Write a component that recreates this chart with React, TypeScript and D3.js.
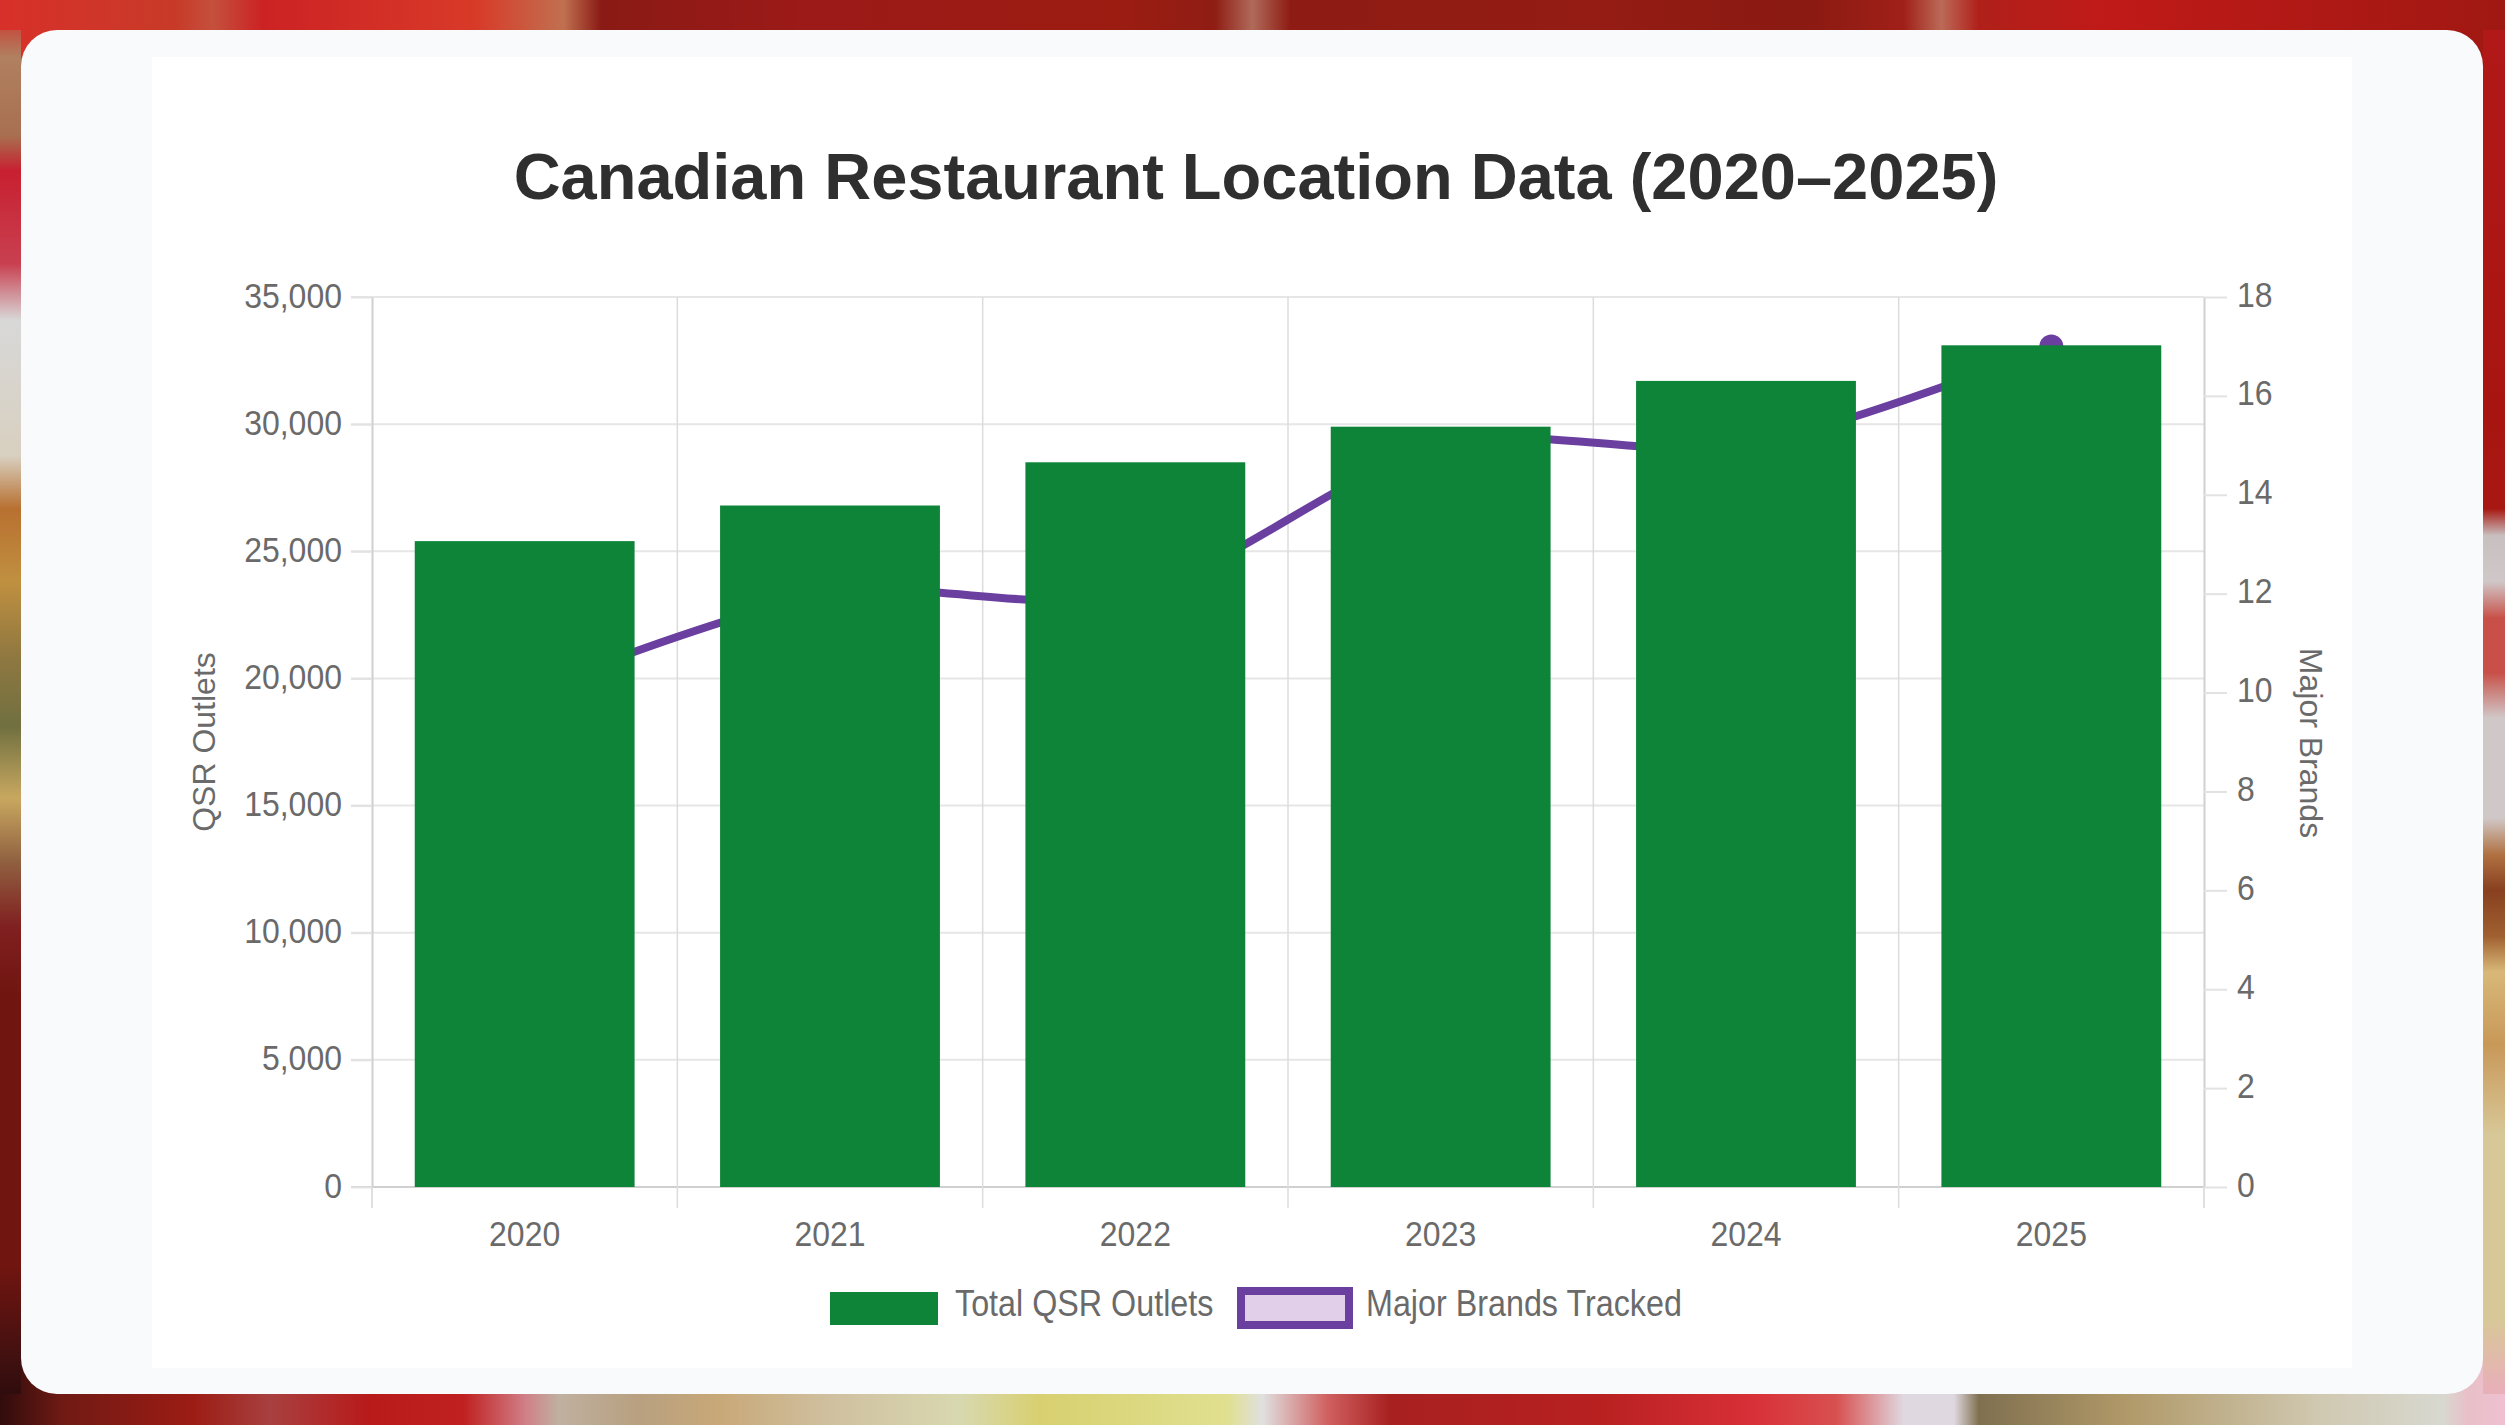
import React, { useEffect, useRef } from 'react';
import * as d3 from 'd3';

const years = ['2020', '2021', '2022', '2023', '2024', '2025'];
const outlets = [25400, 26800, 28500, 29900, 31700, 33100];
const brands = [10, 12, 12, 15, 15, 17];
const outletTicks = [0, 5000, 10000, 15000, 20000, 25000, 30000, 35000];
const brandTicks = [0, 2, 4, 6, 8, 10, 12, 14, 16, 18];

// blurred photo behind the card, only its edges are visible: [offset 0..1, colour]
const topStops: [number, string][] = [[0, '#d8302a'], [0.07, '#c83a28'], [0.085, '#c4503c'], [0.105, '#cc2224'], [0.19, '#d83a28'], [0.225, '#c07050'], [0.24, '#8a1a15'], [0.32, '#9c1a18'], [0.445, '#9c1c12'], [0.485, '#8f1d14'], [0.5, '#b06a5a'], [0.515, '#8e1c14'], [0.64, '#941c14'], [0.72, '#8a1a12'], [0.76, '#a02018'], [0.775, '#bb6a58'], [0.79, '#b0201a'], [0.84, '#c01a18'], [1, '#a01812']];
const bottomStops: [number, string][] = [[0, '#300c0c'], [0.025, '#701a14'], [0.077, '#9c1c14'], [0.108, '#a84040'], [0.147, '#b81a1a'], [0.185, '#c02020'], [0.21, '#d08088'], [0.223, '#c0b0a0'], [0.255, '#b8a080'], [0.287, '#c8a878'], [0.332, '#d0c0a0'], [0.383, '#d8d8b0'], [0.415, '#d8d070'], [0.49, '#e0e090'], [0.504, '#e0e0e0'], [0.53, '#d06060'], [0.555, '#a82020'], [0.638, '#b82020'], [0.7, '#d83038'], [0.733, '#d85050'], [0.76, '#e0d8e0'], [0.78, '#e0d8e0'], [0.79, '#807050'], [0.848, '#b09868'], [0.925, '#d0c8b0'], [0.975, '#d8d8d0'], [0.985, '#e8c0c8'], [1, '#f0c0d0']];
const leftStops: [number, string][] = [[0, '#d82020'], [0.04, '#b08060'], [0.095, '#a87050'], [0.12, '#c82030'], [0.185, '#c84050'], [0.225, '#d8d8d8'], [0.32, '#d8d0c0'], [0.357, '#b87030'], [0.408, '#c09040'], [0.46, '#907840'], [0.51, '#707040'], [0.56, '#c8a860'], [0.605, '#906040'], [0.65, '#802020'], [0.7, '#701510'], [0.89, '#701510'], [0.955, '#401010'], [1, '#200808']];
const rightStops: [number, string][] = [[0, '#b01a18'], [0.06, '#b01818'], [0.29, '#a81510'], [0.357, '#a81812'], [0.376, '#c8c0c0'], [0.408, '#d0c8c8'], [0.434, '#c85048'], [0.472, '#c85048'], [0.504, '#d0c8c8'], [0.574, '#d0c8c8'], [0.6, '#b07040'], [0.625, '#884020'], [0.657, '#a06030'], [0.682, '#d8b878'], [0.733, '#c89858'], [0.797, '#d8c898'], [0.925, '#d8c898'], [0.975, '#e8b0b8'], [1, '#e8b8c0']];

const W = 2505;
const H = 1425;
const margin = { top: 297, right: 301, bottom: 238, left: 372 };
const FONT = '"Liberation Sans", Arial, sans-serif';
const GREEN = '#0e8438';
const PURPLE = '#6b3fa0';
const STRETCH = 1.12; // the source screenshot is slightly taller than wide

const App: React.FC = () => {
  const svgRef = useRef<SVGSVGElement>(null);

  useEffect(() => {
    if (!svgRef.current) return;
    const svg = d3.select(svgRef.current);
    svg.selectAll('*').remove();

    const innerW = W - margin.left - margin.right;
    const innerH = H - margin.top - margin.bottom;

    // backdrop
    const defs = svg.append('defs');
    const grad = (id: string, stops: [number, string][], vertical: boolean) => {
      const g = defs.append('linearGradient').attr('id', id)
        .attr('gradientUnits', 'userSpaceOnUse')
        .attr('x1', 0).attr('y1', 0)
        .attr('x2', vertical ? 0 : W).attr('y2', vertical ? H : 0);
      stops.forEach(([o, c]) => g.append('stop').attr('offset', o).attr('stop-color', c));
    };
    grad('bgTop', topStops, false);
    grad('bgBottom', bottomStops, false);
    grad('bgLeft', leftStops, true);
    grad('bgRight', rightStops, true);
    svg.append('rect').attr('width', W).attr('height', 70).attr('fill', 'url(#bgTop)');
    svg.append('rect').attr('y', H - 70).attr('width', W).attr('height', 70).attr('fill', 'url(#bgBottom)');
    svg.append('rect').attr('y', 30).attr('width', 21).attr('height', 1364).attr('fill', 'url(#bgLeft)');
    svg.append('rect').attr('x', 2483).attr('y', 30).attr('width', 22).attr('height', 1364).attr('fill', 'url(#bgRight)');

    svg.append('rect').attr('x', 21).attr('y', 30).attr('width', 2462).attr('height', 1364).attr('rx', 36).attr('fill', '#f8fafc');
    svg.append('rect').attr('x', 152).attr('y', 57).attr('width', 2200).attr('height', 1311).attr('fill', '#ffffff');

    svg.append('text')
      .attr('x', 1256).attr('y', 199)
      .attr('text-anchor', 'middle')
      .attr('font-family', FONT).attr('font-weight', 700).attr('font-size', 65)
      .attr('fill', '#2f2f2f')
      .text('Canadian Restaurant Location Data (2020–2025)');

    const x = d3.scaleBand().domain(years).range([0, innerW]).paddingInner(0.28).paddingOuter(0.14);
    const yLeft = d3.scaleLinear().domain([0, 35000]).range([innerH, 0]);
    const yRight = d3.scaleLinear().domain([0, 18]).range([innerH, 0]);

    const g = svg.append('g').attr('transform', `translate(${margin.left},${margin.top})`);

    // Gridlines
    g.append('g').selectAll('line').data(outletTicks).enter().append('line')
      .attr('x1', -21).attr('x2', innerW)
      .attr('y1', d => yLeft(d)).attr('y2', d => yLeft(d))
      .attr('stroke', d => (d === 0 ? '#d0d0d0' : '#e6e6e6')).attr('stroke-width', 2);
    const step = x.step();
    g.append('g').selectAll('line').data(years.slice(1)).enter().append('line')
      .attr('x1', (d, i) => (i + 1) * step).attr('x2', (d, i) => (i + 1) * step)
      .attr('y1', 0).attr('y2', innerH + 21)
      .attr('stroke', '#dcdcdc').attr('stroke-width', 1.5);

    // Line sits behind the bars
    const cx = (d: string) => (x(d) || 0) + x.bandwidth() / 2;
    const line = d3.line<number>()
      .x((d, i) => cx(years[i]))
      .y(d => yRight(d))
      .curve(d3.curveCardinal.tension(0.1));
    g.append('path').attr('d', line(brands)).attr('fill', 'none')
      .attr('stroke', PURPLE).attr('stroke-width', 8);
    g.append('g').selectAll('circle').data(brands).enter().append('circle')
      .attr('cx', (d, i) => cx(years[i])).attr('cy', d => yRight(d))
      .attr('r', 12).attr('fill', PURPLE);

    // Bars
    g.append('g').selectAll('rect').data(outlets).enter().append('rect')
      .attr('x', (d, i) => x(years[i]) || 0)
      .attr('y', d => yLeft(d))
      .attr('width', x.bandwidth())
      .attr('height', d => innerH - yLeft(d))
      .attr('fill', GREEN);

    // Axes
    const styleAxis = (a: d3.Selection<SVGGElement, unknown, null, undefined>, tx: number, ty: number, anchor: string) => {
      a.select('.domain').attr('stroke', '#d0d0d0').attr('stroke-width', 2);
      a.selectAll('.tick line').attr('stroke', '#e2e2e2').attr('stroke-width', 2);
      a.selectAll<SVGTextElement, unknown>('.tick text')
        .attr('x', null).attr('y', null).attr('dy', null)
        .attr('transform', `translate(${tx},${ty}) scale(1,${STRETCH})`)
        .attr('text-anchor', anchor)
        .attr('fill', '#6a6a6a').attr('font-family', FONT).attr('font-size', 32);
    };

    const left = g.append('g').call(
      d3.axisLeft(yLeft).tickValues(outletTicks).tickSize(21).tickSizeOuter(0).tickFormat(d => d3.format(',')(d as number)),
    );
    styleAxis(left as any, -30, 10, 'end');

    const right = g.append('g').attr('transform', `translate(${innerW},0)`).call(
      d3.axisRight(yRight).tickValues(brandTicks).tickSize(23).tickSizeOuter(0),
    );
    styleAxis(right as any, 33, 9, 'start');

    const bottom = g.append('g').attr('transform', `translate(0,${innerH})`).call(
      d3.axisBottom(x).tickSize(0).tickSizeOuter(0),
    );
    styleAxis(bottom as any, 0, 59, 'middle');
    bottom.select('.domain').remove();

    // Outer ticks on the x axis
    g.append('g').selectAll('line').data([0, innerW]).enter().append('line')
      .attr('x1', d => d).attr('x2', d => d).attr('y1', innerH).attr('y2', innerH + 21)
      .attr('stroke', '#e0e0e0').attr('stroke-width', 2);

    // Axis titles
    const axisTitle = (tx: number, ty: number, rot: number, label: string) =>
      svg.append('text')
        .attr('transform', `translate(${tx},${ty}) rotate(${rot})`)
        .attr('text-anchor', 'middle')
        .attr('fill', '#6a6a6a').attr('font-family', FONT).attr('font-size', 32)
        .text(label);
    axisTitle(215, 742, -90, 'QSR Outlets');
    axisTitle(2300, 743, 90, 'Major Brands');

    // Legend
    svg.append('rect').attr('x', 830).attr('y', 1292).attr('width', 108).attr('height', 33).attr('fill', GREEN);
    svg.append('rect').attr('x', 1241).attr('y', 1291).attr('width', 108).attr('height', 34)
      .attr('fill', '#e1cfea').attr('stroke', PURPLE).attr('stroke-width', 8);
    const legendText = (tx: number, label: string) =>
      svg.append('text')
        .attr('transform', `translate(${tx},1316) scale(1,${STRETCH})`)
        .attr('fill', '#6a6a6a').attr('font-family', FONT).attr('font-size', 32.3)
        .text(label);
    legendText(955, 'Total QSR Outlets');
    legendText(1366, 'Major Brands Tracked');
  }, []);

  return (
    <svg
      ref={svgRef}
      width={W}
      height={H}
      viewBox={`0 0 ${W} ${H}`}
      style={{ position: 'absolute', left: 0, top: 0, display: 'block' }}
    />
  );
};

export default App;
